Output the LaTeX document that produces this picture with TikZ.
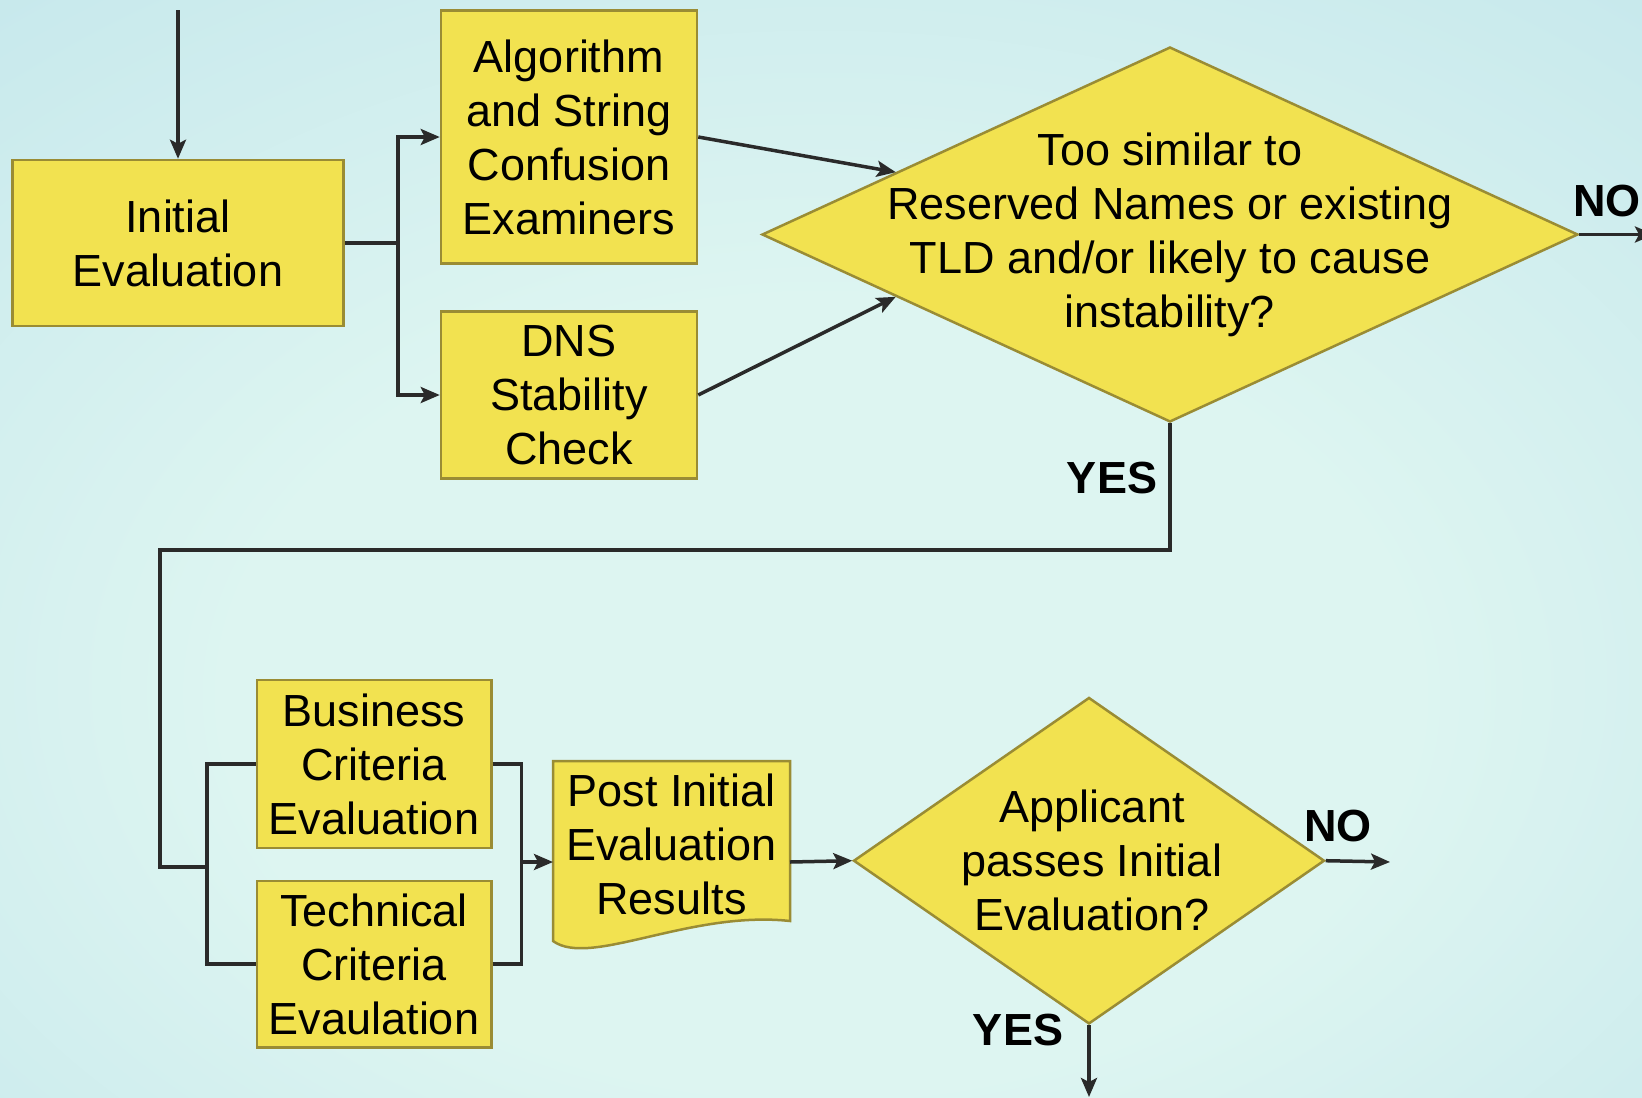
\documentclass[tikz,border=0pt]{standalone}
\usepackage{fontspec}
\setmainfont{Liberation Sans}
\usetikzlibrary{shapes.geometric,arrows.meta,calc}
\definecolor{boxfill}{HTML}{F2E250}
\definecolor{boxborder}{HTML}{9A8C34}
\definecolor{linecol}{HTML}{2A2A2A}
\definecolor{bgc}{HTML}{DDF5F1}
\definecolor{bgm}{HTML}{C6E8EC}
\definecolor{bgn}{HTML}{A3D0DB}
\definecolor{bgo}{HTML}{86BBCB}
\pgfdeclareradialshading{bgshade}{\pgfpoint{0bp}{-9bp}}{color(0bp)=(bgc); color(18bp)=(bgc); color(40bp)=(bgm); color(58bp)=(bgn); color(72bp)=(bgo)}
\begin{document}
\begin{tikzpicture}[x=1pt,y=-1pt,
 box/.style={draw=boxborder,line width=2.5pt,fill=boxfill,inner sep=0pt,align=center,font=\fontsize{45}{54}\selectfont},
 dia/.style={diamond,draw=boxborder,line width=2.5pt,fill=boxfill,inner sep=0pt},
 txt/.style={align=center,inner sep=0pt,font=\fontsize{45}{54}\selectfont},
 lbl/.style={inner sep=0pt,font=\fontsize{45}{54}\selectfont\bfseries},
 conn/.style={draw=linecol,line width=3.5pt},
 arr/.style={conn,-{Stealth[length=19pt,width=16pt,inset=4pt]}}]
\useasboundingbox (0,0) rectangle (1642,1098);
\shade[shading=bgshade] (0,0) rectangle (1642,1098);

% nodes
\node[box, minimum width=331pt, minimum height=166pt] (init) at (178,243) {Initial\\Evaluation};
\node[box, minimum width=256pt, minimum height=253pt] (alg) at (569,137) {Algorithm\\and String\\Confusion\\Examiners};
\node[box, minimum width=256pt, minimum height=167pt] (dns) at (569,395) {DNS\\Stability\\Check};
\node[dia, minimum width=816pt, minimum height=375pt] (d1) at (1170,234.5) {};
\node[txt] (d1t) at (d1.center) {Too similar to\\Reserved Names or existing\\TLD and/or likely to cause\\instability?};

\node[box, minimum width=234.5pt, minimum height=168pt] (bus) at (374,764) {Business\\Criteria\\Evaluation};
\node[box, minimum width=234.5pt, minimum height=166.5pt] (tech) at (374,964) {Technical\\Criteria\\Evaulation};

\node[minimum width=237pt, minimum height=202pt, inner sep=0pt, outer sep=0pt] (post) at (671.5,862) {};
\draw[draw=boxborder,line width=2.5pt,fill=boxfill] (post.north west) -- (post.north east) -- (790,921) .. controls (690,910) and (590,968) .. (553,941) -- cycle;
\node[txt] (postt) at (671.5,844) {Post Initial\\Evaluation\\Results};

\node[dia, minimum width=471pt, minimum height=326.5pt] (d2) at (1089,860.7) {};
\node[txt] (d2t) at ([xshift=3pt]d2.center) {Applicant\\passes Initial\\Evaluation?};

\node[lbl] (no1) at (1607,201) {NO};
\node[lbl] (yes1) at (1112,478.5) {YES};
\node[lbl] (no2) at (1338,826) {NO};
\node[lbl] (yes2) at (1018,1029.5) {YES};

% connectors
\coordinate (top) at (178,10);
\draw[arr] (top) -- (init.north);
\coordinate (br1) at (398,243);
\draw[conn] (init.east) -- (br1);
\draw[arr] (br1) |- (alg.west);
\draw[arr] (br1) |- (dns.west);
\draw[arr] (alg.east) -- ($(d1.west)!0.33!(d1.north)$);
\draw[arr] (dns.east) -- ($(d1.west)!0.33!(d1.south)$);
\coordinate (noend1) at (1654,234.5);
\draw[arr] (d1.east) -- (noend1);

\coordinate (yc1) at (160,550);
\coordinate (br2) at (207,867);
\draw[conn] (d1.south) |- (yc1) |- (br2);
\draw[conn] (br2) |- (bus.west);
\draw[conn] (br2) |- (tech.west);
\coordinate (br3) at (521.5,862);
\draw[conn] (bus.east) -| (br3);
\draw[conn] (tech.east) -| (br3);
\draw[arr] (br3) -- (post.west);
\draw[arr] (post.east) -- (d2.west);
\coordinate (noend2) at (1390,862);
\draw[arr] (d2.east) -- (noend2);
\coordinate (yesend) at (1089,1097);
\draw[arr] (d2.south) -- (yesend);
\end{tikzpicture}
\end{document}
